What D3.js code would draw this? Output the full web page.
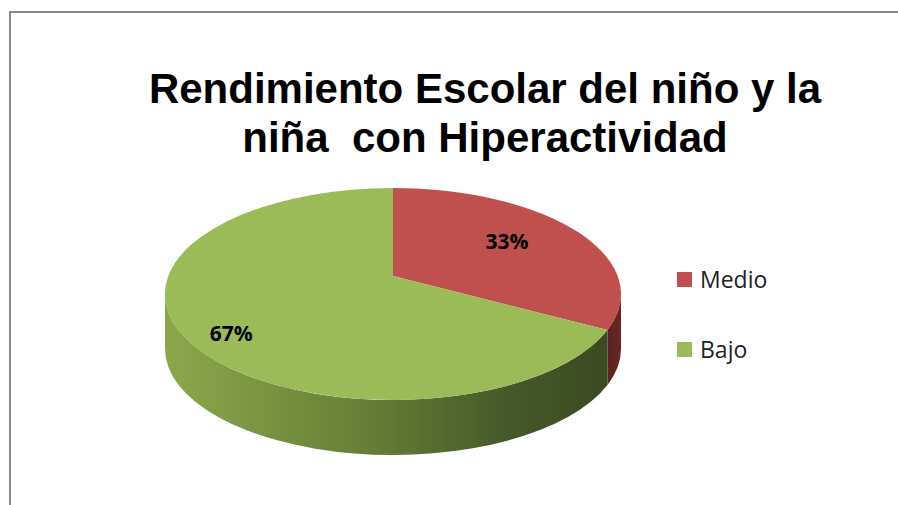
<!DOCTYPE html>
<html lang="es">
<head>
<meta charset="utf-8">
<script src="https://cdn.jsdelivr.net/npm/d3@7"></script>
<style>
  body { margin: 0; background: #fff; }
  .title { font-family: "Liberation Sans", Arial, sans-serif; font-weight: bold; font-size: 42px; fill: #000; text-anchor: middle; }
  .pct { font-family: "Open Sans", sans-serif; font-weight: bold; font-size: 21px; fill: #000; text-anchor: middle; dominant-baseline: central; }
  .leg { font-family: "Open Sans", sans-serif; font-size: 23px; fill: #222; }
</style>
</head>
<body>
<div id="chart"></div>
<script>
// data
var categories = ["Medio", "Bajo"];
var values = [33, 67];
var labels = ["33%", "67%"];
var titleLines = ["Rendimiento Escolar del niño y la", "niña  con Hiperactividad"];

var topColors = ["#c0504d", "#9bbb59"];

var width = 898, height = 505;
var cx = 393, cy = 294, rx = 228, ry = 106, depth = 55;
var tilt = -0.17; // perspective: pulls the pie centre towards the back

var svg = d3.select("#chart").append("svg")
    .attr("width", width)
    .attr("height", height);

// frame (right/bottom edges run past the window)
svg.append("rect")
    .attr("x", 10).attr("y", 12)
    .attr("width", 920).attr("height", 520)
    .attr("fill", "none")
    .attr("stroke", "#8a8a8a")
    .attr("stroke-width", 2);

// title
svg.selectAll(".title")
  .data(titleLines)
  .enter().append("text")
    .attr("class", "title")
    .attr("xml:space", "preserve")
    .attr("x", 485)
    .attr("y", function(d, i) { return 103 + i * 49; })
    .text(function(d) { return d; });

// gradients for the side walls
var defs = svg.append("defs");
var gG = defs.append("linearGradient").attr("id", "sideGreen")
    .attr("gradientUnits", "userSpaceOnUse")
    .attr("x1", cx - rx).attr("x2", cx + rx).attr("y1", 0).attr("y2", 0);
gG.append("stop").attr("offset", "0%").attr("stop-color", "#8ca84c");
gG.append("stop").attr("offset", "45%").attr("stop-color", "#657e35");
gG.append("stop").attr("offset", "75%").attr("stop-color", "#46592a");
gG.append("stop").attr("offset", "100%").attr("stop-color", "#3a4820");
var gR = defs.append("linearGradient").attr("id", "sideRed")
    .attr("gradientUnits", "userSpaceOnUse")
    .attr("x1", cx + rx - 30).attr("x2", cx + rx).attr("y1", 0).attr("y2", 0);
gR.append("stop").attr("offset", "0%").attr("stop-color", "#4e1c1c");
gR.append("stop").attr("offset", "100%").attr("stop-color", "#6a2626");
var sideFill = ["url(#sideRed)", "url(#sideGreen)"];

var pie = d3.pie().sort(null).value(function(d) { return d; });
var arcs = pie(values);

// map a point of the unit disc (angle a clockwise from top, radius r)
// to the screen, with a projective squeeze for perspective
function proj(a, r) {
  var u = r * Math.sin(a), v = -r * Math.cos(a);
  var den = 1 + tilt * v;
  var u2 = u * Math.sqrt(1 - tilt * tilt) / den;
  var v2 = (v + tilt) / den;
  return [cx + rx * u2, cy + ry * v2];
}
// screen angle on the rim (clockwise from top) for a data angle
function rimAngle(a) {
  var p = proj(a, 1);
  var ang = Math.atan2((p[0] - cx) / rx, -(p[1] - cy) / ry);
  if (ang < 0) ang += 2 * Math.PI;
  if (a >= 2 * Math.PI - 1e-9) ang = 2 * Math.PI;
  return ang;
}
function ex(a) { return cx + rx * Math.sin(a); }
function ey(a, dz) { return cy - ry * Math.cos(a) + (dz || 0); }

// outer wall only where it faces the viewer
function wallPath(d) {
  var s = Math.max(rimAngle(d.startAngle), Math.PI / 2);
  var e = Math.min(rimAngle(d.endAngle), 3 * Math.PI / 2);
  if (e <= s) return null;
  var large = (e - s) > Math.PI ? 1 : 0;
  return "M" + ex(s) + "," + ey(s) +
    "A" + rx + "," + ry + " 0 " + large + " 1 " + ex(e) + "," + ey(e) +
    "L" + ex(e) + "," + ey(e, depth) +
    "A" + rx + "," + ry + " 0 " + large + " 0 " + ex(s) + "," + ey(s, depth) +
    "Z";
}

function topPath(d) {
  var s = rimAngle(d.startAngle), e = rimAngle(d.endAngle);
  var large = (e - s) > Math.PI ? 1 : 0;
  var c = proj(0, 0);
  return "M" + c[0] + "," + c[1] +
    "L" + ex(s) + "," + ey(s) +
    "A" + rx + "," + ry + " 0 " + large + " 1 " + ex(e) + "," + ey(e) +
    "Z";
}

svg.selectAll(".wall")
  .data(arcs.filter(function(d) { return wallPath(d); }))
  .enter().append("path")
    .attr("class", "wall")
    .attr("d", wallPath)
    .attr("fill", function(d) { return sideFill[d.index]; });

svg.selectAll(".top")
  .data(arcs)
  .enter().append("path")
    .attr("class", "top")
    .attr("d", topPath)
    .attr("fill", function(d) { return topColors[d.index]; });

// percentage labels
function labelPos(d) {
  var m = (d.startAngle + d.endAngle) / 2 - (d.index ? 0.12 : 0.06);
  return proj(m, d.index ? 0.83 : 0.65);
}
svg.selectAll(".pct")
  .data(arcs)
  .enter().append("text")
    .attr("class", "pct")
    .attr("x", function(d) { return labelPos(d)[0]; })
    .attr("y", function(d) { return labelPos(d)[1]; })
    .text(function(d, i) { return labels[i]; });

// legend
var leg = svg.selectAll(".legItem")
  .data(categories)
  .enter().append("g")
    .attr("class", "legItem")
    .attr("transform", function(d, i) { return "translate(677," + (272 + i * 70) + ")"; });
leg.append("rect")
    .attr("width", 15).attr("height", 15)
    .attr("fill", function(d, i) { return topColors[i]; });
leg.append("text")
    .attr("class", "leg")
    .attr("x", 23).attr("y", 16)
    .text(function(d) { return d; });
</script>
</body>
</html>
